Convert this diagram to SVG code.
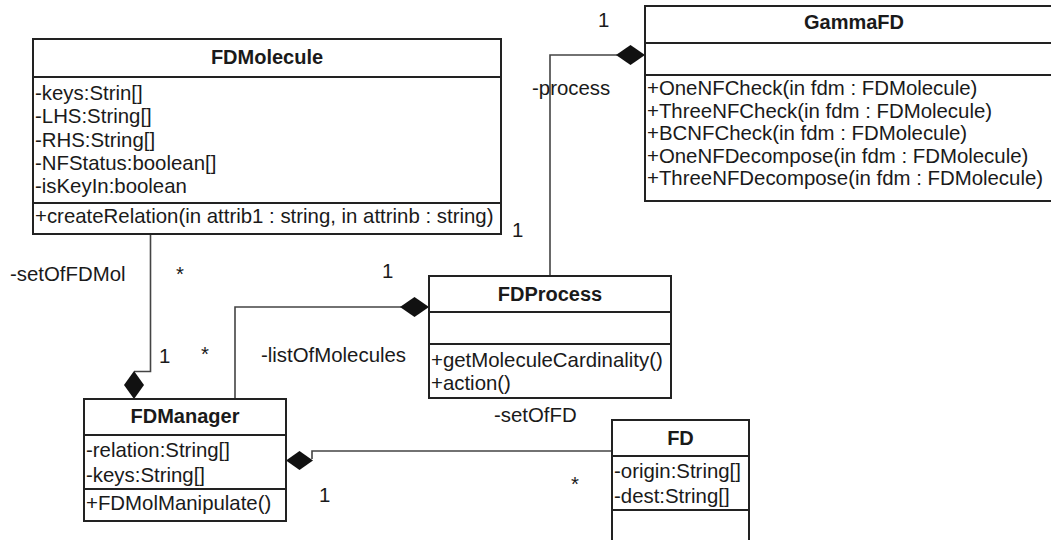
<svg xmlns="http://www.w3.org/2000/svg" width="1051" height="540" viewBox="0 0 1051 540">
<style>
text{font-family:"Liberation Sans",Arial,sans-serif;font-size:20.4px;fill:#1a1a1a}
.t{font-weight:bold;text-anchor:middle;font-size:20px}
.box{fill:#fff;stroke:#222;stroke-width:2}
.div{stroke:#222;stroke-width:2}
.con{fill:none;stroke:#444;stroke-width:1.6}
.dia{fill:#111;stroke:none}
</style>
<rect width="1051" height="540" fill="#fff"/>
<g id="connectors">
<path class="con" d="M550,276 V55 H617"/>
<path class="dia" d="M616,55 L630.5,45 L645,55 L630.5,65 Z"/>
<path class="con" d="M235,399 V307 H401"/>
<path class="dia" d="M400,307 L414.5,297 L429,307 L414.5,317 Z"/>
<path class="con" d="M150.5,234 V371.5 H134"/>
<path class="dia" d="M134,371 L144,385 L134,399 L124,385 Z"/>
<path class="con" d="M312,459 V451 H612"/>
<path class="dia" d="M286,460.5 L299.5,451 L313,460.5 L299.5,470 Z"/>
</g>
<g id="labels">
<text x="598" y="27">1</text>
<text x="532" y="95">-process</text>
<text x="512" y="237">1</text>
<text x="10" y="281">-setOfFDMol</text>
<text x="176" y="281">*</text>
<text x="382" y="278">1</text>
<text x="159" y="363">1</text>
<text x="201" y="361">*</text>
<text x="261" y="362">-listOfMolecules</text>
<text x="494" y="422">-setOfFD</text>
<text x="571" y="491">*</text>
<text x="319" y="502">1</text>
</g>
<g id="FDMolecule">
<rect class="box" x="33" y="39" width="468" height="195"/>
<line class="div" x1="33" y1="77" x2="501" y2="77"/>
<line class="div" x1="33" y1="203" x2="501" y2="203"/>
<text class="t" x="267" y="64">FDMolecule</text>
<text x="35" y="100">-keys:Strin[]</text>
<text x="35" y="123">-LHS:String[]</text>
<text x="35" y="146.5">-RHS:String[]</text>
<text x="35" y="170">-NFStatus:boolean[]</text>
<text x="35" y="193">-isKeyIn:boolean</text>
<text x="35" y="223">+createRelation(in attrib1 : string, in attrinb : string)</text>
</g>
<g id="GammaFD">
<rect class="box" x="645" y="6" width="418" height="195"/>
<line class="div" x1="645" y1="43" x2="1063" y2="43"/>
<line class="div" x1="645" y1="75" x2="1063" y2="75"/>
<text class="t" x="854" y="29">GammaFD</text>
<text x="647" y="95">+OneNFCheck(in fdm : FDMolecule)</text>
<text x="647" y="118">+ThreeNFCheck(in fdm : FDMolecule)</text>
<text x="647" y="140">+BCNFCheck(in fdm : FDMolecule)</text>
<text x="647" y="162.5">+OneNFDecompose(in fdm : FDMolecule)</text>
<text x="647" y="185">+ThreeNFDecompose(in fdm : FDMolecule)</text>
</g>
<g id="FDProcess">
<rect class="box" x="429" y="276" width="242" height="122"/>
<line class="div" x1="429" y1="312" x2="671" y2="312"/>
<line class="div" x1="429" y1="344" x2="671" y2="344"/>
<text class="t" x="550" y="301">FDProcess</text>
<text x="431" y="367">+getMoleculeCardinality()</text>
<text x="431" y="390">+action()</text>
</g>
<g id="FDManager">
<rect class="box" x="84" y="399" width="202" height="122"/>
<line class="div" x1="84" y1="435" x2="286" y2="435"/>
<line class="div" x1="84" y1="489" x2="286" y2="489"/>
<text class="t" x="185" y="423">FDManager</text>
<text x="86" y="457">-relation:String[]</text>
<text x="86" y="481.5">-keys:String[]</text>
<text x="86" y="510">+FDMolManipulate()</text>
</g>
<g id="FD">
<rect class="box" x="612" y="420" width="137" height="140"/>
<line class="div" x1="612" y1="456" x2="749" y2="456"/>
<line class="div" x1="612" y1="510" x2="749" y2="510"/>
<text class="t" x="680.5" y="445">FD</text>
<text x="614" y="478">-origin:String[]</text>
<text x="614" y="503">-dest:String[]</text>
</g>
</svg>
